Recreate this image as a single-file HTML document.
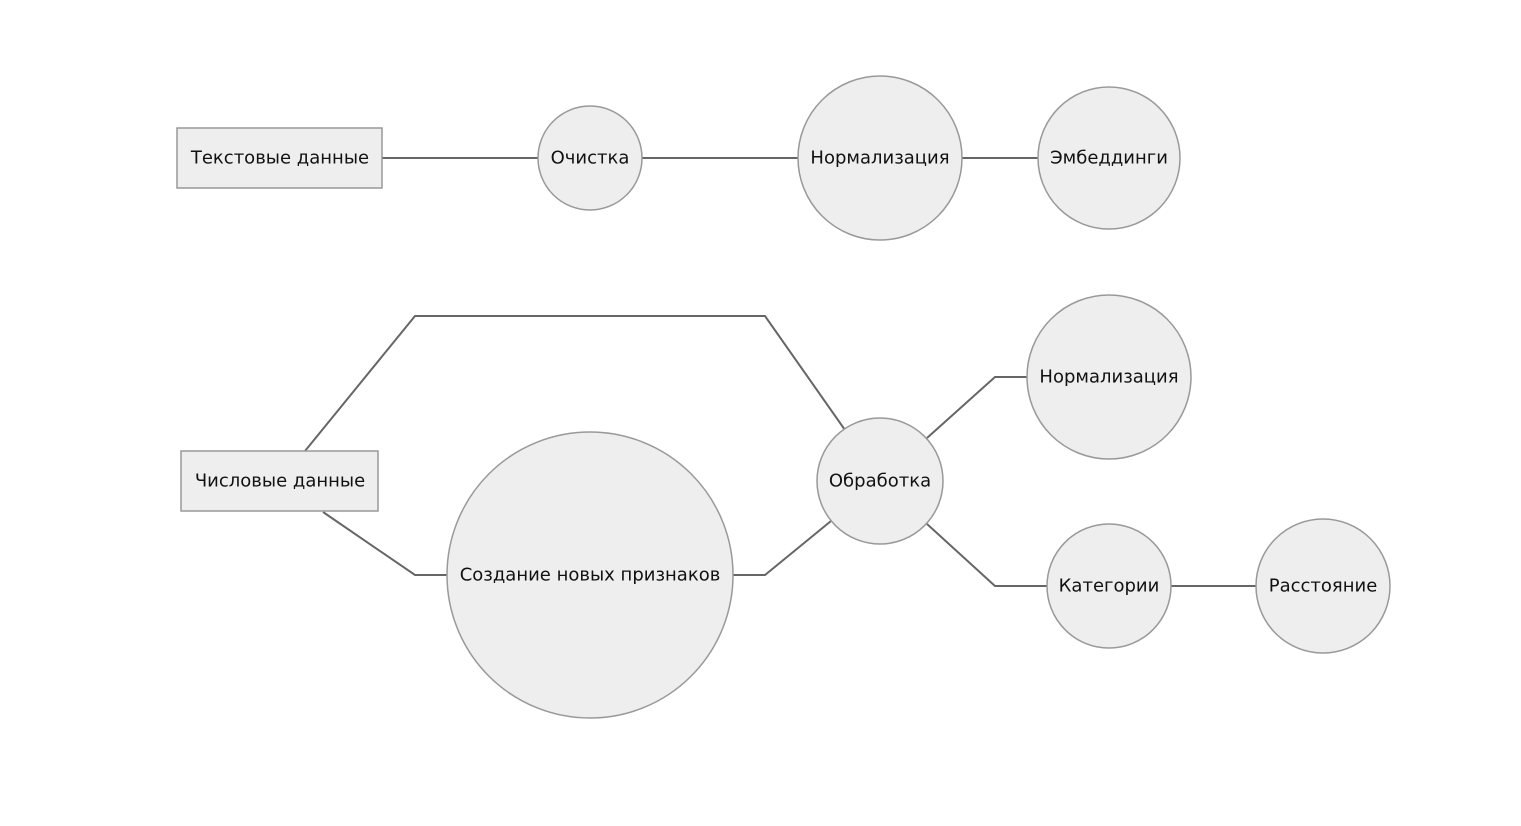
<!DOCTYPE html>
<html><head><meta charset="utf-8"><style>
html,body{margin:0;padding:0;background:#fff;}
svg{display:block;}
text{font-family:"DejaVu Sans","Liberation Sans",sans-serif;font-size:18px;fill:#111;text-anchor:middle;dominant-baseline:central;}
</style></head><body>
<svg width="1521" height="826" viewBox="0 0 1521 826" xmlns="http://www.w3.org/2000/svg">
<g fill="none" stroke="#666" stroke-width="2">
<line x1="382" y1="158" x2="538" y2="158"/>
<line x1="642" y1="158" x2="798" y2="158"/>
<line x1="962" y1="158" x2="1038" y2="158"/>
<polyline points="305,451 415,316 765,316 845,430"/>
<polyline points="323,512 415,575 447,575"/>
<polyline points="733,575 765,575 831,521"/>
<polyline points="927,438 995,377 1027,377"/>
<polyline points="927,524 995,586 1047,586"/>
<line x1="1171" y1="586" x2="1256" y2="586"/>
</g>
<g fill="#eeeeee" stroke="#999" stroke-width="1.5">
<rect x="177" y="128" width="205" height="60"/>
<rect x="181" y="451" width="197" height="60"/>
<circle cx="590" cy="158" r="52"/>
<circle cx="880" cy="158" r="82"/>
<circle cx="1109" cy="158" r="71"/>
<circle cx="590" cy="575" r="143"/>
<circle cx="880" cy="481" r="63"/>
<circle cx="1109" cy="377" r="82"/>
<circle cx="1109" cy="586" r="62"/>
<circle cx="1323" cy="586" r="67"/>
</g>
<text x="280" y="158">Текстовые данные</text>
<text x="590" y="158">Очистка</text>
<text x="880" y="158">Нормализация</text>
<text x="1109" y="158">Эмбеддинги</text>
<text x="280" y="481">Числовые данные</text>
<text x="590" y="575">Создание новых признаков</text>
<text x="880" y="481">Обработка</text>
<text x="1109" y="377">Нормализация</text>
<text x="1109" y="586">Категории</text>
<text x="1323" y="586">Расстояние</text>
</svg>
</body></html>
